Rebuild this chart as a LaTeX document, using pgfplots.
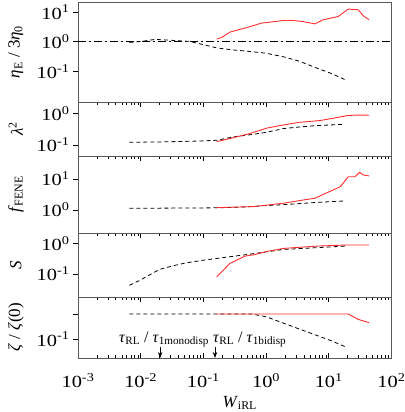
\documentclass[border=0pt]{standalone}
\usepackage{fontspec}
\setmainfont{Liberation Serif}
\newfontfamily\tickfont[FakeStretch=1.2]{Liberation Serif}
\usepackage{pgfplots}
\pgfplotsset{compat=1.18}
\usetikzlibrary{arrows.meta}
\definecolor{myred}{RGB}{255,45,45}
\pgfplotsset{
  every axis/.append style={
    xmode=log, ymode=log, scale only axis, width=313.5pt,
    xmin=1e-3, xmax=1e2,
    xtick align=inside, ytick align=outside,
    ytick pos=left,
    yminorticks=false,
    major tick length=5pt, minor tick length=3pt,
    axis line style={black!65, line width=0.9pt},
    every tick/.style={black, line width=0.6pt},
    tick label style={font=\fontsize{17}{20}\tickfont},
    ylabel style={at={(axis description cs:-0.198,0.5)}, anchor=center, font=\fontsize{17}{20}\selectfont},
  },
}
\tikzset{
  dsh/.style={black, line width=0.8pt, dash pattern=on 4pt off 3pt},
  rd/.style={myred, line width=0.9pt},
}
\begin{document}
\begin{tikzpicture}[font=\fontsize{16}{19}\selectfont]
\path[use as bounding box] (-78pt,2pt) rectangle (326pt,-410pt);
% Panel 1
\begin{axis}[at={(0pt,0pt)}, anchor=north west, height=100pt,
  ymin=0.0093, ymax=21.9, xtick=\empty,
  ytick={0.1,1,10}, yticklabels={10\textsuperscript{-1},10\textsuperscript{0},10\textsuperscript{1}},
  ylabel={\textit{η}\textsubscript{E} / 3\textit{η}\textsubscript{0}}]
\addplot[black, line width=0.8pt, dash pattern=on 8pt off 3pt on 2pt off 3pt] coordinates {(1e-3,1) (1e2,1)};
\addplot[dsh] coordinates {(0.0066,0.95) (0.01,1.02) (0.017,1.2) (0.025,1.15) (0.04,1.08) (0.06,1.03) (0.1,0.8) (0.163,0.62) (0.3,0.53) (0.55,0.47) (1.0,0.41) (1.9,0.31) (3.4,0.22) (6.4,0.13) (11,0.085) (18,0.053)};
\addplot[rd] coordinates {(0.163,1.23) (0.196,1.40) (0.265,2.12) (0.49,3.0) (0.85,4.26) (1.88,5.2) (2.7,5.2) (3.9,4.8) (6.0,4.0) (8.1,5.5) (14.1,7.1) (20.4,12.6) (29.5,12.0) (35.5,7.5) (44,5.5)};
\end{axis}
% Panel 2
\begin{axis}[at={(0pt,-100pt)}, anchor=north west, height=54pt,
  ymin=0.045, ymax=2.27,
  xtick={1e-3,1e-2,1e-1,1e0,1e1,1e2}, xticklabels={}, xtick pos=top,
  ytick={0.1,1}, yticklabels={10\textsuperscript{-1},10\textsuperscript{0}},
  ylabel={\textit{λ}\textsuperscript{2}}]
\addplot[dsh] coordinates {(0.0066,0.122) (0.01,0.123) (0.02,0.125) (0.035,0.128) (0.06,0.131) (0.1,0.135) (0.163,0.141) (0.3,0.18) (0.55,0.21) (1.0,0.25) (1.9,0.33) (3.4,0.37) (6.4,0.41) (11,0.43) (18,0.45)};
\addplot[rd] coordinates {(0.163,0.127) (0.3,0.17) (0.55,0.23) (1.02,0.34) (1.9,0.43) (3.4,0.52) (7.2,0.59) (11.8,0.70) (19.3,0.84) (27,0.88) (44,0.87)};
\end{axis}
% Panel 3
\begin{axis}[at={(0pt,-154pt)}, anchor=north west, height=77pt,
  ymin=0.18, ymax=55,
  xtick={1e-3,1e-2,1e-1,1e0,1e1,1e2}, xticklabels={}, xtick pos=top,
  ytick={1,10}, yticklabels={10\textsuperscript{0},10\textsuperscript{1}},
  ylabel={\textit{f}\textsubscript{FENE}}]
\addplot[dsh] coordinates {(0.0066,1.13) (0.05,1.15) (0.163,1.17) (0.3,1.2) (0.55,1.28) (1.0,1.38) (1.9,1.48) (3.4,1.6) (6.4,1.75) (11,1.85) (18,1.95)};
\addplot[rd] coordinates {(0.163,1.19) (0.63,1.28) (1.02,1.43) (1.88,1.64) (3.4,2.0) (6.0,2.38) (15.2,5.6) (20.4,11.8) (26.3,11.8) (31,16.4) (35.5,13.4) (44,12.5)};
\end{axis}
% Panel 4
\begin{axis}[at={(0pt,-231pt)}, anchor=north west, height=64pt,
  ymin=0.0174, ymax=2.18,
  xtick={1e-3,1e-2,1e-1,1e0,1e1,1e2}, xticklabels={}, xtick pos=top,
  ytick={0.1,1}, yticklabels={10\textsuperscript{-1},10\textsuperscript{0}},
  ylabel={\textit{S}}]
\addplot[dsh] coordinates {(0.0066,0.042) (0.0098,0.062) (0.02,0.14) (0.035,0.19) (0.054,0.23) (0.1,0.28) (0.163,0.32) (0.55,0.44) (1.88,0.63) (6.4,0.72) (18,0.81)};
\addplot[rd] coordinates {(0.163,0.08) (0.265,0.22) (0.46,0.38) (0.63,0.42) (1.02,0.54) (1.88,0.68) (6.4,0.81) (19,0.88) (44,0.88)};
\end{axis}
% Panel 5
\begin{axis}[at={(0pt,-295pt)}, anchor=north west, height=61pt,
  ymin=0.0174, ymax=4.8,
  xtick={1e-3,1e-2,1e-1,1e0,1e1,1e2}, xtick pos=both,
  xticklabels={10\textsuperscript{-3},10\textsuperscript{-2},10\textsuperscript{-1},10\textsuperscript{0},10\textsuperscript{1},10\textsuperscript{2}},
  xticklabel pos=bottom,
  xticklabel style={yshift=-12pt},
  ytick={0.1,1}, yticklabels={10\textsuperscript{-1},},
  ylabel={\textit{ζ} / \textit{ζ}(0)},
  xlabel={\textit{W}\textsubscript{iRL}},
  xlabel style={at={(axis description cs:0.5,0)}, anchor=north, inner sep=0pt, yshift=-38pt, xshift=5pt, font=\fontsize{17}{20}\selectfont}]
\addplot[dsh] coordinates {(0.0066,1.0) (0.163,1.0) (0.6,1.0) (1.0,0.78) (1.9,0.43) (3.4,0.25) (6.4,0.14) (11,0.085) (18,0.05)};
\addplot[rd] coordinates {(0.163,1.0) (1,1.0) (5,1.0) (20.4,1.0) (29.5,0.61) (44,0.45)};
\draw[-{Stealth[length=6pt,width=4.5pt]}, line width=0.8pt] (axis cs:0.0204,0.046) -- (axis cs:0.0204,0.0174);
\draw[-{Stealth[length=6pt,width=4.5pt]}, line width=0.8pt] (axis cs:0.153,0.046) -- (axis cs:0.153,0.0174);
\node[anchor=base, inner sep=0pt] at (axis cs:0.0236,0.074) {\textit{τ}\textsubscript{RL} / \textit{τ}\textsubscript{1monodisp}};
\node[anchor=base west, inner sep=0pt] at (axis cs:0.142,0.074) {\textit{τ}\textsubscript{RL} / \textit{τ}\textsubscript{1bidisp}};
\end{axis}
\end{tikzpicture}
\end{document}
